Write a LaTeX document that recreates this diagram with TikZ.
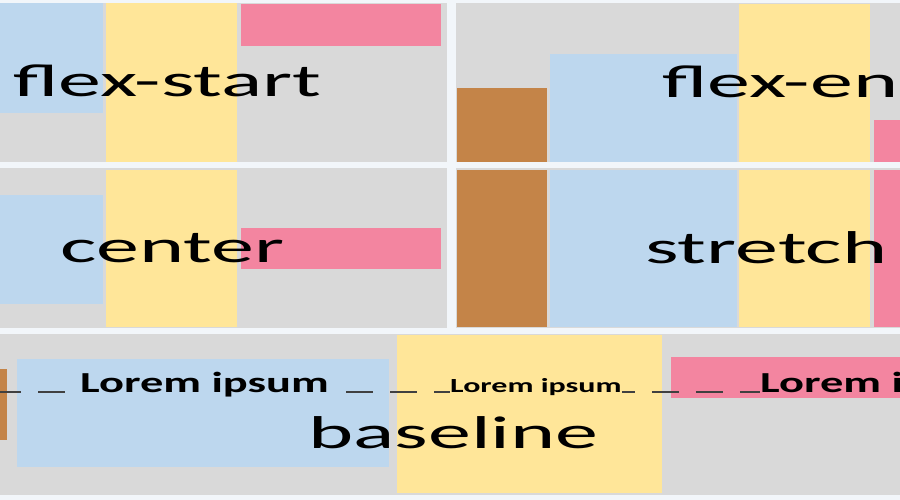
\documentclass[tikz,border=0pt]{standalone}
\usepackage{fontspec}
\setmainfont{Carlito}
\usepackage{graphicx}
\usepackage{tikz}
\definecolor{gapwhite}{RGB}{242,246,250}
\definecolor{panelgray}{RGB}{217,217,217}
\definecolor{itemblue}{RGB}{189,215,238}
\definecolor{itemyellow}{RGB}{255,230,153}
\definecolor{itempink}{RGB}{243,133,160}
\definecolor{itembrown}{RGB}{196,132,72}
\tikzset{
  panel/.style  = {fill=panelgray},
  itmb/.style   = {fill=itemblue},
  itmy/.style   = {fill=itemyellow},
  itmp/.style   = {fill=itempink},
  itmr/.style   = {fill=itembrown},
  biglbl/.style = {anchor=base west, inner sep=0pt, font=\fontsize{46}{50}\selectfont},
  lorem/.style  = {anchor=base west, inner sep=0pt, font=\bfseries\fontsize{29}{32}\selectfont},
  loremsm/.style= {anchor=base west, inner sep=0pt, font=\bfseries\fontsize{20}{22}\selectfont},
  bline/.style  = {draw=black!75, line width=1.6pt, dash pattern=on 27pt off 17pt},
}
\newcommand{\widebig}[1]{\scalebox{1.87}[1]{#1}}
\newcommand{\widesm}[1]{\scalebox{1.6}[1]{#1}}

\begin{document}
\begin{tikzpicture}[x=1pt, y=-1pt]
  \fill[gapwhite] (0,0) rectangle (900,500);
  \useasboundingbox (0,0) rectangle (900,500);
  \clip (0,0) rectangle (900,500);
  % panels
  \path[panel] (0,3) rectangle (447,162);
  \path[panel] (456,3) rectangle (900,162);
  \path[panel] (0,168) rectangle (447,328);
  \path[panel] (456,168) rectangle (900,328);
  \path[panel] (0,334) rectangle (900,495);
  % flex-start
  \path[itmb] (0,3) rectangle (103,113);
  \path[itmy] (106,3) rectangle (237,162);
  \path[itmp] (241,4) rectangle (441,46);
  \node[biglbl] (fstart) at (13,97) {\widebig{flex-start}};
  % flex-end
  \path[itmr] (457,88) rectangle (547,162);
  \path[itmb] (550,54) rectangle (737,162);
  \path[itmy] (739,4) rectangle (870,162);
  \path[itmp] (874,120) rectangle (900,162);
  \node[biglbl] (fend) at (662,98) {\widebig{flex-end}};
  % center
  \path[itmb] (0,195) rectangle (103,304);
  \path[itmy] (106,170) rectangle (237,327);
  \path[itmp] (241,228) rectangle (441,269);
  \node[biglbl] (fcenter) at (60,262) {\widebig{center}};
  % stretch
  \path[itmr] (457,170) rectangle (547,327);
  \path[itmb] (550,170) rectangle (737,327);
  \path[itmy] (739,170) rectangle (870,327);
  \path[itmp] (874,170) rectangle (900,327);
  \node[biglbl] (fstretch) at (645,263) {\widebig{stretch}};
  % baseline
  \path[itmr] (0,369) rectangle (7,440);
  \path[itmb] (17,359) rectangle (389,467);
  \path[itmy] (397,335) rectangle (662,493);
  \path[itmp] (671,357) rectangle (900,398);
  \node[lorem] (lorA) at (80,392) {\widesm{Lorem ipsum}};
  \node[loremsm] (lorB) at (450,392) {\widesm{Lorem ipsum}};
  \node[lorem] (lorC) at (760,392) {\widesm{Lorem ipsum}};
  \node[biglbl] (fbase) at (308,448) {\widebig{baseline}};
  \coordinate (blstart) at (0,392);
  \draw[bline, dash phase=6pt] (blstart) -- (lorA.base west);
  \draw[bline, dash phase=27pt] (lorA.base east) -- (lorB.base west);
  \draw[bline, dash phase=14pt] (lorB.base east) -- (lorC.base west);
\end{tikzpicture}
\end{document}
